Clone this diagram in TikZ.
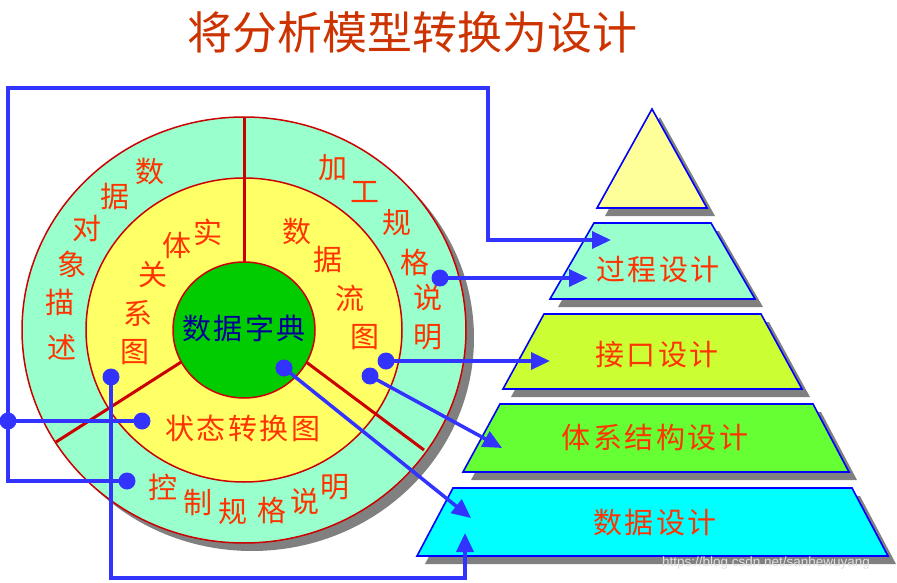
\documentclass[tikz,border=0pt]{standalone}
\usepackage{fontspec}
\newfontfamily\cjk{Noto Sans CJK SC}
\newfontfamily\wmfont{Liberation Sans}
\usetikzlibrary{arrows.meta}

\definecolor{ringgreen}{HTML}{99FFCC}
\definecolor{ringyellow}{HTML}{FFFF66}
\definecolor{coregreen}{HTML}{00CC00}
\definecolor{divred}{HTML}{CC0000}
\definecolor{txtred}{HTML}{FF3300}
\definecolor{titlered}{HTML}{CC3300}
\definecolor{dictblue}{HTML}{000099}
\definecolor{linkblue}{HTML}{3333FF}
\definecolor{edgeblue}{HTML}{0000FF}
\definecolor{shadowgray}{HTML}{808080}
\definecolor{topyellow}{HTML}{FFFF99}
\definecolor{procgreen}{HTML}{99FFCC}
\definecolor{ifacegreen}{HTML}{CCFF33}
\definecolor{archgreen}{HTML}{66FF33}
\definecolor{datacyan}{HTML}{00FFFF}

\newcommand{\chgap}{\kern2.5pt}

\begin{document}
\begin{tikzpicture}[x=1pt,y=-1pt,
  lbl/.style={text=txtred,font=\cjk\fontsize{29}{29}\selectfont,inner sep=0pt},
  dot/.style={circle,fill=linkblue,inner sep=0pt,minimum size=17pt},
  link/.style={draw=linkblue,line width=3.5pt},
  tip/.style={-{Triangle[length=19pt,width=17pt]}},
  layer/.style={draw=edgeblue,line width=1.6pt}]
\useasboundingbox (0,0) rectangle (897,583);

% title
\node[text=titlered,font=\cjk\fontsize{45}{45}\selectfont] (title) at (412,32) {将分析模型转换为设计};

% analysis model rings
\fill[shadowgray] (252,338) ellipse [x radius=222pt,y radius=213pt];
\filldraw[fill=ringgreen,draw=divred,line width=1.5pt] (244,330) ellipse [x radius=222pt,y radius=213pt];
\filldraw[fill=ringyellow,draw=divred,line width=1.5pt] (244,330) ellipse [x radius=158pt,y radius=152pt];
\draw[divred,line width=3pt] (244,300) -- (244,117);
\draw[divred,line width=3pt] (200,350) -- (56,442);
\draw[divred,line width=3pt] (290,350) -- (424,450);
\filldraw[fill=coregreen,draw=divred,line width=1.5pt] (244,330) ellipse [x radius=71pt,y radius=68pt];

\node[lbl,text=dictblue] (dict) at (244,328) {数\chgap 据\chgap 字\chgap 典};
\node[lbl] (std) at (243,428) {状\chgap 态\chgap 转\chgap 换\chgap 图};

\foreach \c/\x/\y [count=\i] in {数/150/172,据/115/197,对/87/228,象/72/264,描/60/302,述/62/347}
  \node[lbl] (objd\i) at (\x,\y) {\c};
\foreach \c/\x/\y [count=\i] in {加/333/168,工/365/192,规/397/223,格/415/262,说/428/298,明/428/337}
  \node[lbl] (pspec\i) at (\x,\y) {\c};
\foreach \c/\x/\y [count=\i] in {控/163/487,制/198/503,规/233/512,格/272/510,说/305/502,明/335/487}
  \node[lbl] (cspec\i) at (\x,\y) {\c};
\foreach \c/\x/\y [count=\i] in {实/208/232,体/177/245,关/153/275,系/138/313,图/135/352}
  \node[lbl] (erd\i) at (\x,\y) {\c};
\foreach \c/\x/\y [count=\i] in {数/297/232,据/328/260,流/350/298,图/365/337}
  \node[lbl] (dfd\i) at (\x,\y) {\c};

% design pyramid
\fill[shadowgray,shift={(8,8)}] (652,109) -- (707,208) -- (597,208) -- cycle;
\fill[shadowgray,shift={(8,8)}] (594,223) -- (711,223) -- (755,299) -- (550,299) -- cycle;
\fill[shadowgray,shift={(8,8)}] (544,314) -- (761,314) -- (802,389) -- (503,389) -- cycle;
\fill[shadowgray,shift={(8,8)}] (500,404) -- (813,404) -- (849,472) -- (463,472) -- cycle;
\fill[shadowgray,shift={(8,8)}] (453,488) -- (852,488) -- (888,556) -- (417,556) -- cycle;

\filldraw[layer,fill=topyellow] (652,109) -- (707,208) -- (597,208) -- cycle;
\filldraw[layer,fill=procgreen] (594,223) -- (711,223) -- (755,299) -- (550,299) -- cycle;
\filldraw[layer,fill=ifacegreen] (544,314) -- (761,314) -- (802,389) -- (503,389) -- cycle;
\filldraw[layer,fill=archgreen] (500,404) -- (813,404) -- (849,472) -- (463,472) -- cycle;
\filldraw[layer,fill=datacyan] (453,488) -- (852,488) -- (888,556) -- (417,556) -- cycle;

\node[lbl] (proc) at (658,270) {过\chgap 程\chgap 设\chgap 计};
\node[lbl] (iface) at (657,355) {接\chgap 口\chgap 设\chgap 计};
\node[lbl] (arch) at (655,438) {体\chgap 系\chgap 结\chgap 构\chgap 设\chgap 计};
\node[lbl] (data) at (655,523) {数\chgap 据\chgap 设\chgap 计};

\node[text=black!12,font=\wmfont\fontsize{13.5}{13.5}\selectfont] (wm) at (766,563) {https://blog.csdn.net/sanhewuyang};

% connectors
\node[dot] (jdot) at (8,421) {};
\node[dot] (stdot) at (142,421) {};
\node[dot] (ctdot) at (127,481) {};
\node[dot] (pcdot) at (440,278) {};
\node[dot] (dfdotA) at (386,361) {};
\node[dot] (dfdotB) at (370,376) {};
\node[dot] (dddot) at (284,368) {};
\node[dot] (erdot) at (111,377) {};

\coordinate (cornerBL) at (8,481);
\coordinate (cornerTL) at (8,88);
\coordinate (cornerTR) at (488,88);
\coordinate (procA) at (611,240);
\coordinate (procB) at (588,278);
\coordinate (ifaceA) at (550,361);
\coordinate (archA) at (502,448);
\coordinate (dataA) at (471,518);
\coordinate (erBL) at (111,578);
\coordinate (dataB) at (465,533);

\draw[link,tip] (ctdot.center) -- (cornerBL) -- (cornerTL) -- (cornerTR) |- (procA);
\draw[link] (stdot.center) -- (jdot.center);
\draw[link,tip] (pcdot.center) -- (procB);
\draw[link,tip] (dfdotA.center) -- (ifaceA);
\draw[link,tip] (dfdotB.center) -- (archA);
\draw[link,tip] (dddot.center) -- (dataA);
\draw[link,tip] (erdot.center) -- (erBL) -| (dataB);
\end{tikzpicture}
\end{document}
